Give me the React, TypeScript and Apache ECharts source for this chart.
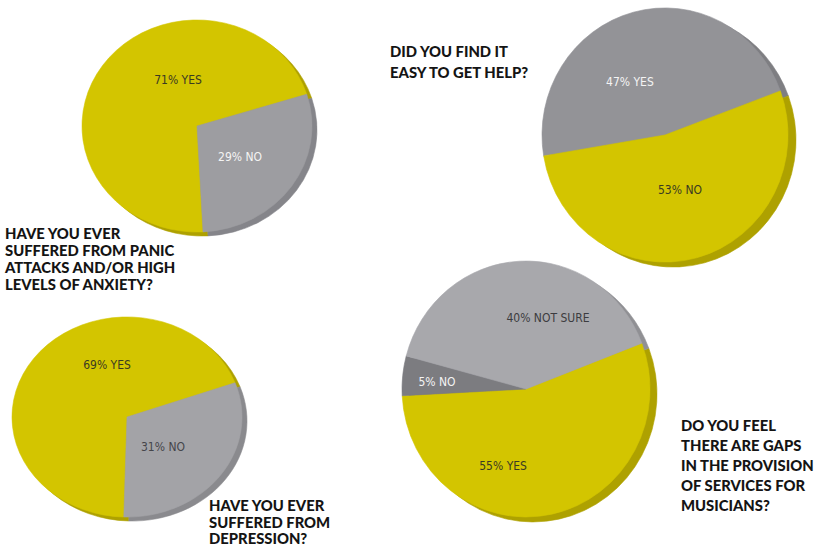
import React, { useEffect, useRef } from "react";
import * as echarts from "echarts";

// ---- data ----
const anxietyNames = ["YES", "NO"];
const anxietyValues = [71, 29];
const depressionNames = ["YES", "NO"];
const depressionValues = [69, 31];
const helpNames = ["YES", "NO"];
const helpValues = [47, 53];
const gapsNames = ["YES", "NO", "NOT SURE"];
const gapsValues = [55, 5, 40];

const anxietyTitle = ["HAVE YOU EVER", "SUFFERED FROM PANIC", "ATTACKS AND/OR HIGH", "LEVELS OF ANXIETY?"];
const depressionTitle = ["HAVE YOU EVER", "SUFFERED FROM", "DEPRESSION?"];
const helpTitle = ["DID YOU FIND IT", "EASY TO GET HELP?"];
const gapsTitle = ["DO YOU FEEL", "THERE ARE GAPS", "IN THE PROVISION", "OF SERVICES FOR", "MUSICIANS?"];

// ---- layout / style ----
const YEL = "#d3c500";
const YEL_RIM = "#aea100";
const GRAY_RIM = "#85858a";

const layouts = [
  {
    names: anxietyNames, values: anxietyValues,
    cx: 197, cy: 126, rx: 115, ry: 106, start: 273, rim: [5, 4],
    fills: [YEL, "#9d9da1"], rims: [YEL_RIM, GRAY_RIM],
    labelPos: [[-0.165, -0.434], [0.374, 0.292]],
    labelColors: ["#3a3a22", "#f4f4f4"],
  },
  {
    names: depressionNames, values: depressionValues,
    cx: 127, cy: 417, rx: 115, ry: 100, start: 268.4, rim: [5, 4],
    fills: [YEL, "#a3a3a7"], rims: [YEL_RIM, "#8a8a8e"],
    labelPos: [[-0.174, -0.52], [0.313, 0.3]],
    labelColors: ["#3a3a22", "#45454a"],
  },
  {
    names: helpNames, values: helpValues,
    cx: 665, cy: 135, rx: 123, ry: 127, start: 189.5, rim: [8, 5],
    fills: ["#939397", YEL], rims: ["#7e7e82", YEL_RIM],
    labelPos: [[-0.285, -0.417], [0.122, 0.433]],
    labelColors: ["#f4f4f4", "#3a3a22"],
  },
  {
    names: gapsNames, values: gapsValues,
    cx: 526, cy: 389, rx: 124, ry: 128, start: 21, rim: [7, 5],
    fills: [YEL, "#7c7c80", "#a8a8ac"], rims: [YEL_RIM, "#6a6a6e", "#909094"],
    labelPos: [[-0.185, 0.6], [-0.718, -0.055], [0.177, -0.555]],
    labelColors: ["#3a3a22", "#f4f4f4", "#3c3c40"],
  },
];

const titleLayouts = [
  { lines: anxietyTitle, x: 5, y: 224.5, lh: 17 },
  { lines: depressionTitle, x: 209, y: 497, lh: 16.5 },
  { lines: helpTitle, x: 390, y: 40, lh: 21 },
  { lines: gapsTitle, x: 681, y: 415, lh: 20 },
];

function sliceAngles(values: number[], start: number) {
  const total = values.reduce((a, b) => a + b, 0);
  let a = start;
  return values.map((v) => {
    const span = (v / total) * 360;
    const s = a;
    a -= span;
    return { startMath: s, span };
  });
}

function makeSeries(L: any, isRim: boolean) {
  const angles = sliceAngles(L.values, L.start);
  return {
    type: "custom",
    coordinateSystem: "none",
    z: isRim ? 1 : 2,
    silent: true,
    data: L.values.map((v: number, i: number) => [v, i]),
    renderItem: (params: any, api: any) => {
      const i = params.dataIndex;
      const ang = angles[i];
      const sStart = (-ang.startMath * Math.PI) / 180;
      const sEnd = sStart + (ang.span * Math.PI) / 180;
      const ox = isRim ? L.rim[0] : 0;
      const oy = isRim ? L.rim[1] : 0;
      const col = isRim ? L.rims[i] : L.fills[i];
      const sectorGroup = {
        type: "group",
        x: L.cx + ox,
        y: L.cy + oy,
        scaleX: 1,
        scaleY: L.ry / L.rx,
        children: [
          {
            type: "sector",
            shape: { cx: 0, cy: 0, r0: 0, r: L.rx, startAngle: sStart, endAngle: sEnd, clockwise: true },
            style: { fill: col, stroke: col, lineWidth: 0.6 },
          },
        ],
      };
      if (isRim) return sectorGroup;
      const lp = L.labelPos[i];
      return {
        type: "group",
        children: [
          sectorGroup,
          {
            type: "text",
            x: L.cx + L.rx * lp[0],
            y: L.cy + L.ry * lp[1],
            z2: 10,
            style: {
              text: `${api.value(0)}% ${L.names[i]}`,
              fill: L.labelColors[i],
              fontSize: 12,
              fontFamily: "'DejaVu Sans Condensed', 'Open Sans', sans-serif",
              align: "center",
              verticalAlign: "middle",
            },
          },
        ],
      };
    },
  };
}

export default function App() {
  const ref = useRef<HTMLDivElement>(null);
  useEffect(() => {
    if (!ref.current) return;
    const chart = echarts.init(ref.current, undefined, { renderer: "svg" });
    const series: any[] = [];
    layouts.forEach((L) => series.push(makeSeries(L, true)));
    layouts.forEach((L) => series.push(makeSeries(L, false)));
    chart.setOption({
      animation: false,
      backgroundColor: "#ffffff",
      series,
      graphic: titleLayouts.map((t) => ({
        type: "text",
        x: t.x,
        y: t.y,
        z: 20,
        style: {
          text: t.lines.join("\n"),
          fill: "#141414",
          fontSize: 14.8,
          fontWeight: 900,
          fontFamily: "Lato, 'Noto Sans', sans-serif",
          lineHeight: t.lh,
          align: "left",
          verticalAlign: "top",
        },
      })),
    });
    return () => chart.dispose();
  }, []);
  return (
    <div
      ref={ref}
      style={{ position: "absolute", left: 0, top: 0, width: 822, height: 546 }}
    />
  );
}
